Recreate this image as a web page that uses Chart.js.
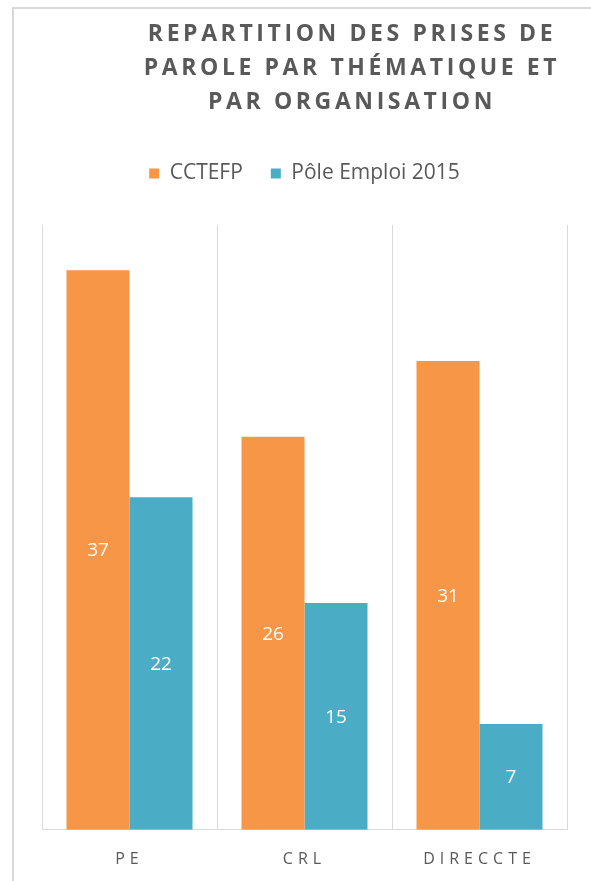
<!DOCTYPE html>
<html>
<head>
<meta charset="utf-8">
<script src="https://cdn.jsdelivr.net/npm/chart.js@4.4.0/dist/chart.umd.min.js"></script>
<style>
    html, body { margin: 0; padding: 0; background: #fff; }
    #wrap { position: relative; width: 591px; height: 881px; overflow: hidden; }
    #frame {
        position: absolute; left: 12px; top: 7px; width: 700px; height: 900px;
        border-left: 2px solid #d9d9d9; border-top: 2px solid #d9d9d9;
    }
    #title {
        position: absolute; left: 120px; width: 464px; top: 15px;
        text-align: center; color: #595959;
        font-family: "Open Sans", sans-serif; font-weight: 700;
        font-size: 23px; line-height: 34px; letter-spacing: 3.6px;
    }
    #chart { position: absolute; left: 0; top: 0; }
</style>
</head>
<body>
<div id="wrap">
    <div id="frame"></div>
    <canvas id="chart" width="591" height="881"></canvas>
    <div id="title">REPARTITION DES PRISES DE<br>PAROLE PAR THÉMATIQUE ET<br>PAR ORGANISATION</div>
</div>
<script>
// Data
const categories = ['PE', 'CRL', 'DIRECCTE'];
const cctefpValues = [37, 26, 31];
const poleEmploiValues = [22, 15, 7];
const seriesNames = ['CCTEFP', 'Pôle Emploi 2015'];

const textColor = '#595959';
const gridColor = '#d9d9d9';
const fontFamily = '"Open Sans", sans-serif';

// category axis with wide letter spacing on its labels
class SpacedCategoryScale extends Chart.CategoryScale {
    drawLabels(area) {
        const ctx = this.ctx;
        ctx.save();
        ctx.letterSpacing = '5px';
        super.drawLabels(area);
        ctx.restore();
    }
}
SpacedCategoryScale.id = 'spacedCategory';
SpacedCategoryScale.defaults = Chart.CategoryScale.defaults;
Chart.register(SpacedCategoryScale);

// white value labels in the middle of each bar
const barValueLabels = {
    id: 'barValueLabels',
    afterDatasetsDraw(chart) {
        const ctx = chart.ctx;
        ctx.save();
        ctx.fillStyle = '#ffffff';
        ctx.font = '19px ' + fontFamily;
        ctx.textAlign = 'center';
        ctx.textBaseline = 'middle';
        chart.data.datasets.forEach((ds, i) => {
            chart.getDatasetMeta(i).data.forEach((bar, j) => {
                ctx.fillText(ds.data[j], bar.x, (bar.y + bar.base) / 2 + 1);
            });
        });
        ctx.restore();
    }
};

// extra room under the legend
const legendSpacer = {
    id: 'legendSpacer',
    beforeInit(chart) {
        const origFit = chart.legend.fit;
        chart.legend.fit = function () {
            origFit.bind(chart.legend)();
            this.height += 31;
        };
    }
};

new Chart(document.getElementById('chart'), {
    type: 'bar',
    data: {
        labels: categories,
        datasets: [{
            label: seriesNames[0],
            data: cctefpValues,
            backgroundColor: '#F79646',
            categoryPercentage: 0.72,
            barPercentage: 1.0
        }, {
            label: seriesNames[1],
            data: poleEmploiValues,
            backgroundColor: '#4BACC6',
            categoryPercentage: 0.72,
            barPercentage: 1.0
        }]
    },
    options: {
        responsive: false,
        animation: false,
        layout: { padding: { left: 42, right: 24, top: 135, bottom: -8 } },
        plugins: {
            title: { display: false },
            tooltip: { enabled: false },
            legend: {
                position: 'top',
                labels: {
                    boxWidth: 10,
                    boxHeight: 10,
                    padding: 28,
                    color: textColor,
                    font: { family: fontFamily, size: 21 }
                }
            }
        },
        scales: {
            x: {
                type: 'spacedCategory',
                grid: { color: gridColor, drawTicks: false, offset: true },
                border: { color: gridColor },
                ticks: {
                    color: textColor,
                    padding: 20,
                    font: { family: fontFamily, size: 16 }
                }
            },
            y: {
                display: false,
                min: 0,
                max: 40
            }
        }
    },
    plugins: [barValueLabels, legendSpacer]
});
</script>
</body>
</html>
